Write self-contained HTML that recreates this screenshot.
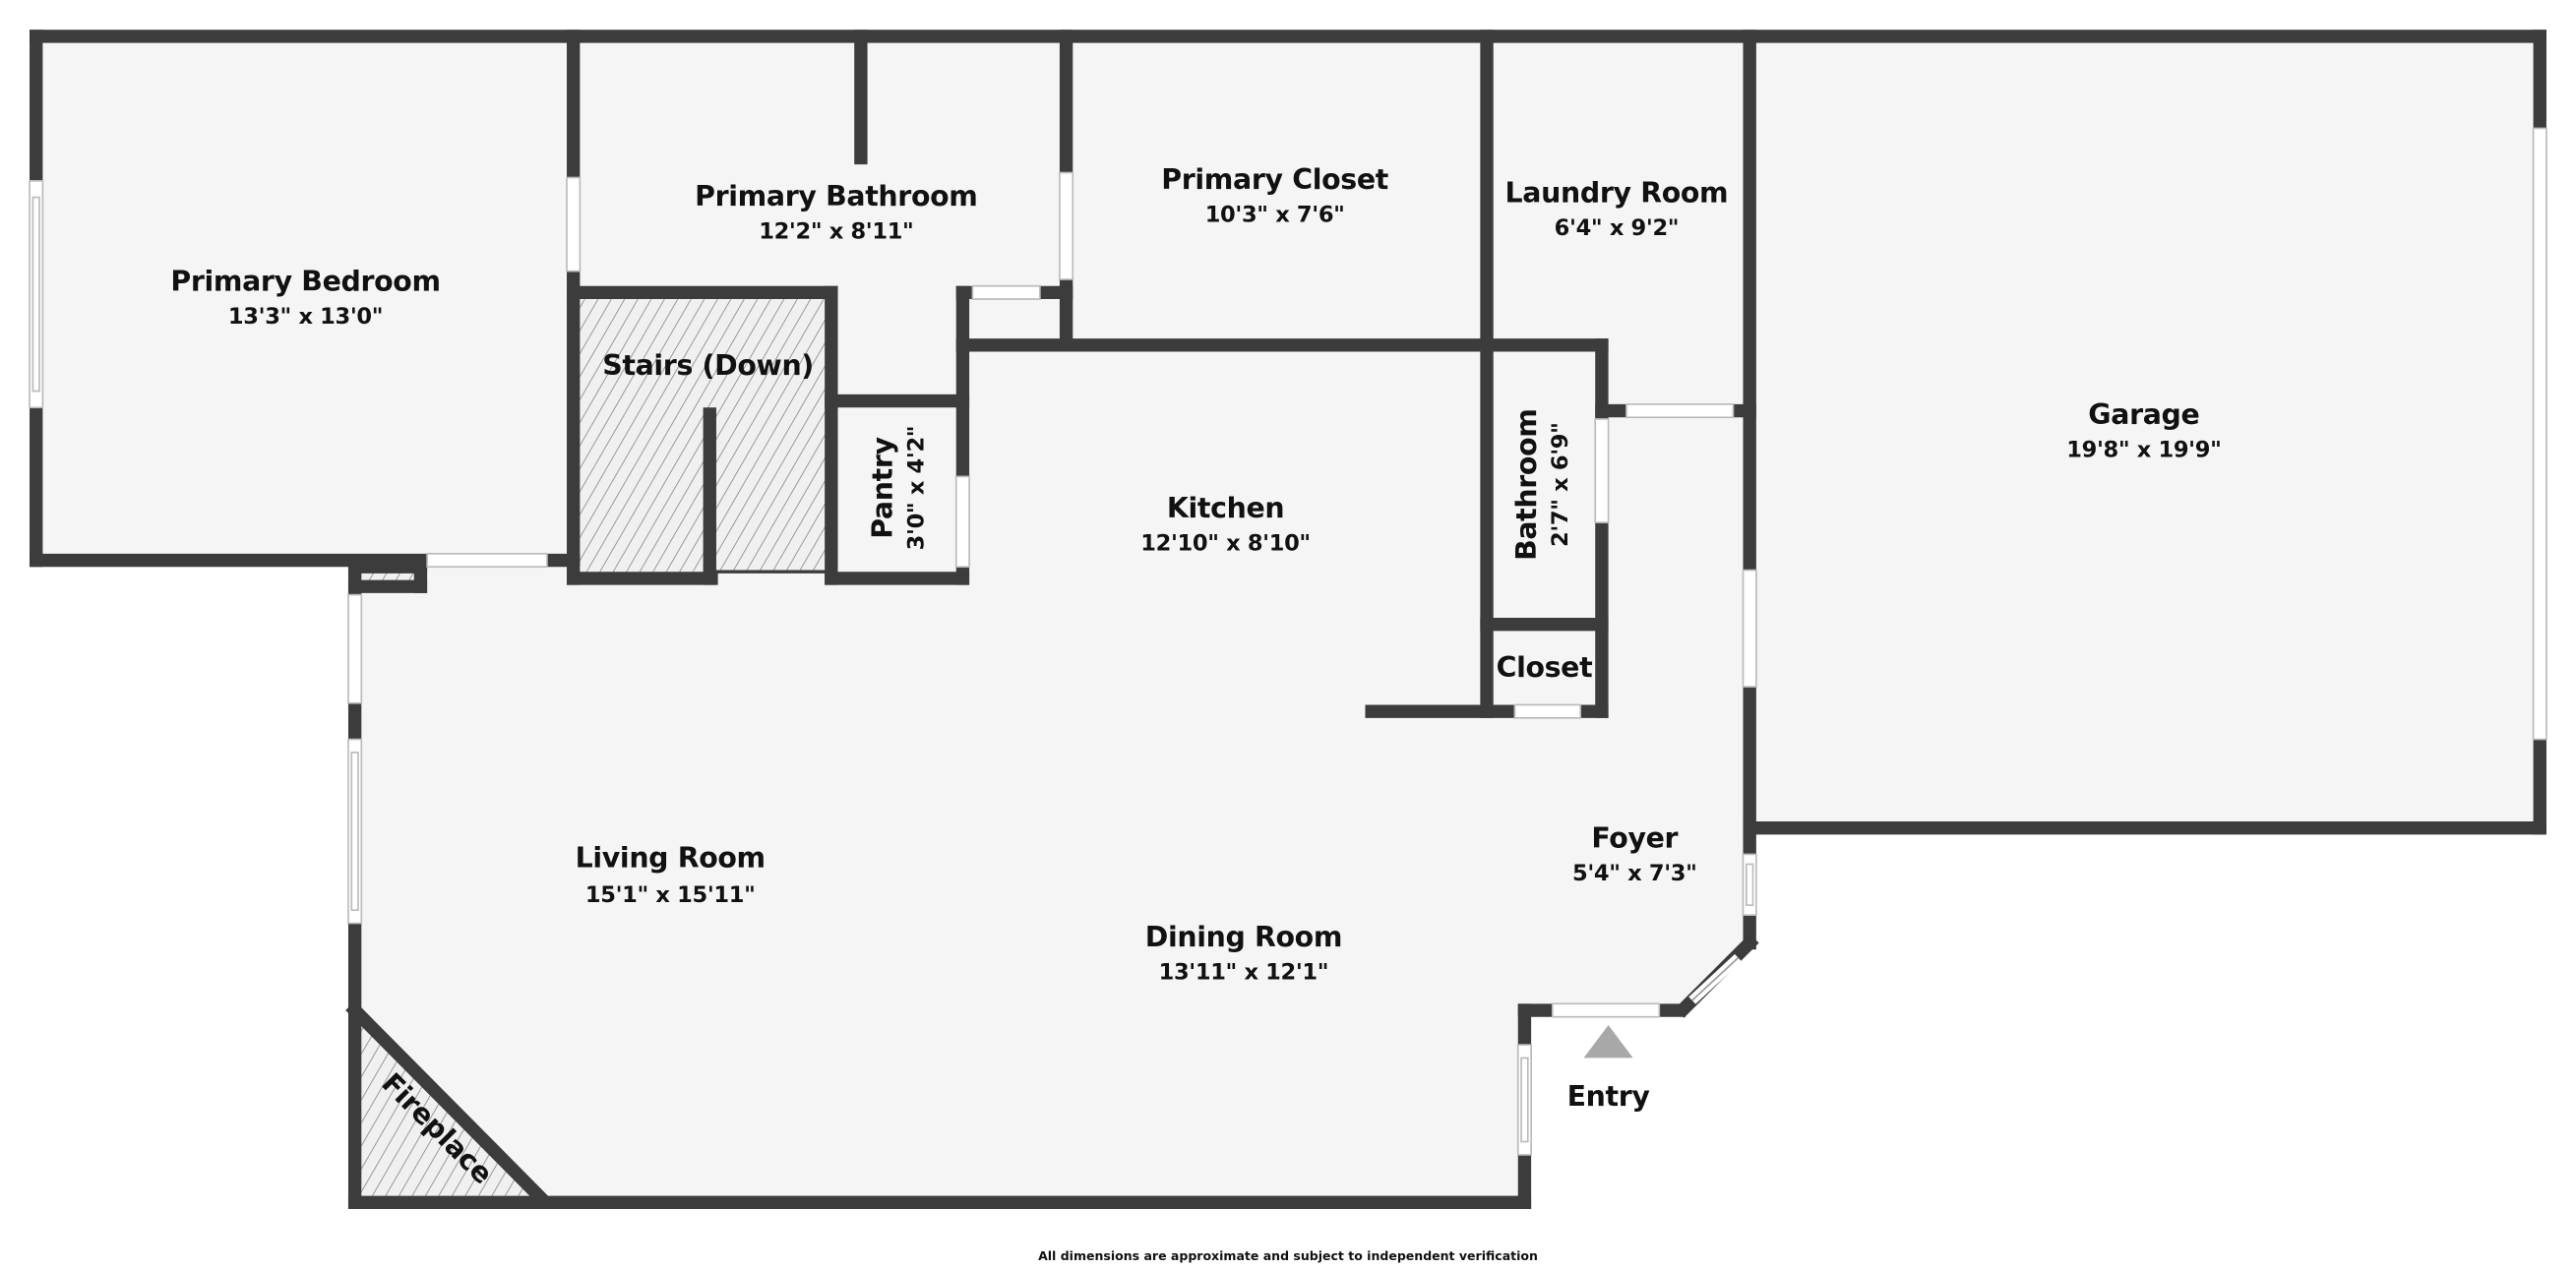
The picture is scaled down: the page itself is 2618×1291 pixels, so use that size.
<!DOCTYPE html>
<html><head><meta charset="utf-8"><style>
html,body{margin:0;padding:0;background:#fff;width:2618px;height:1291px;overflow:hidden}
svg{display:block}
text{font-family:"DejaVu Sans","Liberation Sans",sans-serif;font-weight:bold;fill:#111;text-anchor:middle}
.n{font-size:17px;letter-spacing:-0.2px}.d{font-size:13.5px;letter-spacing:-0.2px}
</style></head><body>
<svg width="2618" height="1291" viewBox="0 0 1568 773" xmlns="http://www.w3.org/2000/svg">
<defs>
<pattern id="h" width="7" height="7" patternUnits="userSpaceOnUse" patternTransform="rotate(30)">
<rect width="7" height="7" fill="#f0f0f0"/><line x1="0" y1="0" x2="0" y2="7" stroke="#888" stroke-width="1"/></pattern>
</defs>
<polygon points="18,22 1550,22 1550,504 1065,504 1065,578 1025,615 928,615 928,732 216,732 216,345 18,345" fill="#f5f5f5"/>
<rect x="353" y="182" width="150" height="166" fill="url(#h)"/>
<polygon points="220,620 220,728 328,728" fill="url(#h)"/>
<rect x="220" y="347" width="36" height="8" fill="url(#h)"/>
<g stroke="#3c3c3c" stroke-width="8" fill="none" stroke-linecap="square">
<line x1="22" y1="22" x2="1546" y2="22"/>
<line x1="22" y1="22" x2="22" y2="341"/>
<line x1="22" y1="341" x2="349" y2="341"/>
<line x1="349" y1="22" x2="349" y2="352"/>
<line x1="524" y1="22" x2="524" y2="96"/>
<line x1="649" y1="22" x2="649" y2="210"/>
<line x1="349" y1="178" x2="506" y2="178"/>
<line x1="506" y1="178" x2="506" y2="352"/>
<line x1="349" y1="352" x2="433" y2="352"/>
<line x1="432" y1="252" x2="432" y2="352"/>
<line x1="506" y1="244" x2="586" y2="244"/>
<line x1="586" y1="178" x2="586" y2="352"/>
<line x1="506" y1="352" x2="586" y2="352"/>
<line x1="586" y1="178" x2="649" y2="178"/>
<line x1="586" y1="210" x2="975" y2="210"/>
<line x1="905" y1="22" x2="905" y2="433"/>
<line x1="975" y1="210" x2="975" y2="433"/>
<line x1="975" y1="250" x2="1065" y2="250"/>
<line x1="905" y1="380" x2="975" y2="380"/>
<line x1="835" y1="433" x2="975" y2="433"/>
<line x1="1065" y1="22" x2="1065" y2="574"/>
<line x1="1546" y1="22" x2="1546" y2="504"/>
<line x1="1065" y1="504" x2="1546" y2="504"/>
<line x1="1065" y1="574" x2="1025" y2="614"/>
<line x1="928" y1="615" x2="1022" y2="615"/>
<line x1="928" y1="615" x2="928" y2="732"/>
<line x1="216" y1="732" x2="928" y2="732"/>
<line x1="216" y1="345" x2="216" y2="732"/>
<line x1="216" y1="345" x2="256" y2="345"/>
<line x1="216" y1="357" x2="256" y2="357"/>
<line x1="256" y1="345" x2="256" y2="357"/>
<line x1="216" y1="615" x2="330" y2="730"/>
</g>
<line x1="435" y1="348" x2="506" y2="348" stroke="#3c3c3c" stroke-width="2"/>
<g fill="#fff" stroke="#bbb" stroke-width="1">
<rect x="18" y="110" width="8" height="138"/><rect x="20" y="120" width="4" height="118"/>
<rect x="345" y="108" width="8" height="57"/>
<rect x="645" y="105" width="8" height="65"/>
<rect x="592" y="174" width="41" height="8"/>
<rect x="582" y="290" width="8" height="55"/>
<rect x="260" y="337" width="73" height="8"/>
<rect x="212" y="362" width="8" height="66"/>
<rect x="212" y="450" width="8" height="112"/><rect x="214" y="458" width="4" height="96"/>
<rect x="971" y="255" width="8" height="63"/>
<rect x="990" y="246" width="65" height="8"/>
<rect x="922" y="429" width="40" height="8"/>
<rect x="1061" y="347" width="8" height="71"/>
<rect x="1061" y="520" width="8" height="37"/><rect x="1063" y="526" width="4" height="25"/>
<rect x="1542" y="78" width="8" height="372"/>
<rect x="945" y="611" width="65" height="8"/>
<rect x="924" y="636" width="8" height="67"/><rect x="926" y="644" width="4" height="51"/>
</g>
<line x1="1030" y1="609" x2="1058" y2="583" stroke="#fff" stroke-width="6"/>
<line x1="1030" y1="609" x2="1058" y2="583" stroke="#999" stroke-width="1"/>
<polygon points="964,644 979,624 994,644" fill="#a8a8a8"/>
<text class="n" x="186" y="177">Primary Bedroom</text><text class="d" x="186" y="197">13'3" x 13'0"</text>
<text class="n" x="509" y="125">Primary Bathroom</text><text class="d" x="509" y="145">12'2" x 8'11"</text>
<text class="n" x="776" y="115">Primary Closet</text><text class="d" x="776" y="135">10'3" x 7'6"</text>
<text class="n" x="984" y="123">Laundry Room</text><text class="d" x="984" y="143">6'4" x 9'2"</text>
<text class="n" x="1305" y="258">Garage</text><text class="d" x="1305" y="278">19'8" x 19'9"</text>
<text class="n" x="431" y="228">Stairs (Down)</text>
<text class="n" x="746" y="315">Kitchen</text><text class="d" x="746" y="335">12'10" x 8'10"</text>
<text class="n" x="940" y="412">Closet</text>
<text class="n" x="995" y="516">Foyer</text><text class="d" x="995" y="536">5'4" x 7'3"</text>
<text class="n" x="408" y="528">Living Room</text><text class="d" x="408" y="549">15'1" x 15'11"</text>
<text class="n" x="757" y="576">Dining Room</text><text class="d" x="757" y="596">13'11" x 12'1"</text>
<text class="n" x="979" y="673">Entry</text>
<text class="n" transform="translate(543,297) rotate(-90)">Pantry</text>
<text class="d" transform="translate(562,297) rotate(-90)">3'0" x 4'2"</text>
<text class="n" transform="translate(935,295) rotate(-90)">Bathroom</text>
<text class="d" transform="translate(954,295) rotate(-90)">2'7" x 6'9"</text>
<text class="n" transform="translate(262,691) rotate(45)">Fireplace</text>
<text x="784" y="767" style="font-size:7.5px">All dimensions are approximate and subject to independent verification</text>
</svg>
</body></html>
